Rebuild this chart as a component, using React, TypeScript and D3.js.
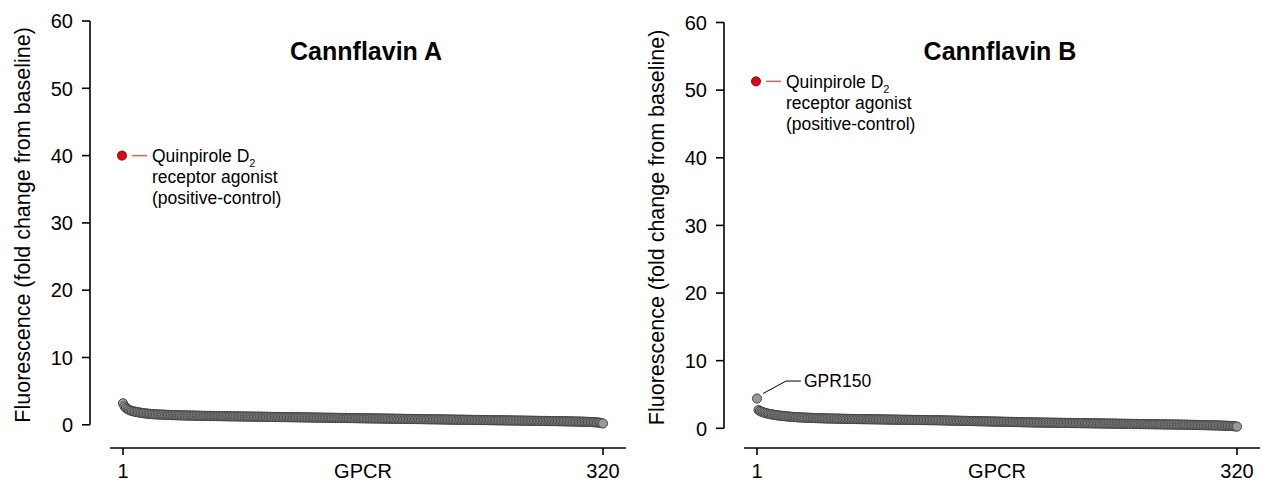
import React from "react";
import * as d3 from "d3";

// fold change per GPCR, sorted high -> low (rank 1..320)
const cannflavinA = [
  3.2, 2.75, 2.5, 2.35, 2.22, 2.12, 2.05, 1.99, 1.94, 1.9, 1.86, 1.82, 1.78, 1.75, 1.72, 1.69, 1.66, 1.64, 1.62, 1.6,
  1.58, 1.56, 1.55, 1.54, 1.53, 1.52, 1.51, 1.5, 1.49, 1.48, 1.47, 1.46, 1.45, 1.45, 1.44, 1.43, 1.42, 1.42, 1.41, 1.4,
  1.4, 1.39, 1.39, 1.38, 1.38, 1.37, 1.37, 1.36, 1.36, 1.35, 1.35, 1.34, 1.34, 1.33, 1.33, 1.32, 1.32, 1.32, 1.31, 1.31,
  1.3, 1.3, 1.3, 1.29, 1.29, 1.29, 1.28, 1.28, 1.28, 1.27, 1.27, 1.27, 1.26, 1.26, 1.26, 1.25, 1.25, 1.25, 1.24, 1.24,
  1.24, 1.23, 1.23, 1.23, 1.22, 1.22, 1.22, 1.21, 1.21, 1.21, 1.2, 1.2, 1.2, 1.19, 1.19, 1.19, 1.18, 1.18, 1.18, 1.17,
  1.17, 1.17, 1.16, 1.16, 1.16, 1.15, 1.15, 1.15, 1.14, 1.14, 1.14, 1.13, 1.13, 1.13, 1.12, 1.12, 1.12, 1.11, 1.11, 1.11,
  1.1, 1.1, 1.1, 1.09, 1.09, 1.09, 1.08, 1.08, 1.08, 1.07, 1.07, 1.07, 1.06, 1.06, 1.06, 1.05, 1.05, 1.05, 1.04, 1.04,
  1.04, 1.03, 1.03, 1.03, 1.02, 1.02, 1.02, 1.01, 1.01, 1.01, 1.0, 1.0, 1.0, 0.99, 0.99, 0.99, 0.98, 0.98, 0.98, 0.97,
  0.97, 0.97, 0.96, 0.96, 0.96, 0.95, 0.95, 0.95, 0.94, 0.94, 0.94, 0.93, 0.93, 0.93, 0.92, 0.92, 0.92, 0.91, 0.91, 0.91,
  0.9, 0.9, 0.9, 0.89, 0.89, 0.89, 0.88, 0.88, 0.88, 0.87, 0.87, 0.87, 0.86, 0.86, 0.86, 0.85, 0.85, 0.85, 0.84, 0.84,
  0.84, 0.83, 0.83, 0.83, 0.82, 0.82, 0.82, 0.81, 0.81, 0.81, 0.8, 0.8, 0.8, 0.79, 0.79, 0.79, 0.78, 0.78, 0.78, 0.77,
  0.77, 0.77, 0.76, 0.76, 0.76, 0.75, 0.75, 0.75, 0.74, 0.74, 0.74, 0.73, 0.73, 0.73, 0.72, 0.72, 0.72, 0.71, 0.71, 0.71,
  0.7, 0.7, 0.7, 0.69, 0.69, 0.69, 0.68, 0.68, 0.68, 0.67, 0.67, 0.67, 0.66, 0.66, 0.66, 0.65, 0.65, 0.65, 0.64, 0.64,
  0.64, 0.63, 0.63, 0.63, 0.62, 0.62, 0.62, 0.61, 0.61, 0.61, 0.6, 0.6, 0.6, 0.59, 0.59, 0.59, 0.58, 0.58, 0.58, 0.57,
  0.57, 0.57, 0.56, 0.56, 0.56, 0.55, 0.55, 0.55, 0.54, 0.54, 0.54, 0.53, 0.53, 0.52, 0.52, 0.51, 0.51, 0.5, 0.5, 0.49,
  0.49, 0.48, 0.48, 0.47, 0.47, 0.46, 0.46, 0.45, 0.44, 0.43, 0.42, 0.41, 0.4, 0.39, 0.37, 0.35, 0.33, 0.3, 0.26, 0.2,
];

const cannflavinB = [
  4.4, 2.7, 2.55, 2.45, 2.38, 2.3, 2.24, 2.18, 2.13, 2.09, 2.05, 2.01, 1.97, 1.94, 1.91, 1.88, 1.85, 1.82, 1.8, 1.78,
  1.76, 1.74, 1.72, 1.7, 1.68, 1.66, 1.65, 1.63, 1.62, 1.61, 1.6, 1.59, 1.58, 1.57, 1.56, 1.55, 1.54, 1.53, 1.52, 1.51,
  1.5, 1.5, 1.49, 1.48, 1.48, 1.47, 1.46, 1.46, 1.45, 1.45, 1.44, 1.44, 1.43, 1.43, 1.42, 1.42, 1.41, 1.41, 1.4, 1.4,
  1.39, 1.39, 1.38, 1.38, 1.38, 1.37, 1.37, 1.36, 1.36, 1.36, 1.35, 1.35, 1.35, 1.34, 1.34, 1.34, 1.33, 1.33, 1.33, 1.32,
  1.32, 1.32, 1.31, 1.31, 1.31, 1.3, 1.3, 1.3, 1.29, 1.29, 1.29, 1.28, 1.28, 1.28, 1.27, 1.27, 1.27, 1.26, 1.26, 1.26,
  1.25, 1.25, 1.25, 1.24, 1.24, 1.24, 1.23, 1.23, 1.23, 1.22, 1.22, 1.22, 1.21, 1.21, 1.21, 1.2, 1.2, 1.2, 1.19, 1.19,
  1.19, 1.18, 1.18, 1.17, 1.17, 1.16, 1.16, 1.15, 1.15, 1.14, 1.14, 1.13, 1.13, 1.12, 1.12, 1.11, 1.11, 1.1, 1.1, 1.09,
  1.09, 1.08, 1.08, 1.07, 1.07, 1.06, 1.06, 1.05, 1.05, 1.04, 1.04, 1.03, 1.03, 1.02, 1.02, 1.01, 1.01, 1.0, 1.0, 0.99,
  0.99, 0.98, 0.98, 0.97, 0.97, 0.96, 0.96, 0.95, 0.95, 0.94, 0.94, 0.93, 0.93, 0.92, 0.92, 0.91, 0.91, 0.9, 0.9, 0.89,
  0.89, 0.88, 0.88, 0.87, 0.87, 0.86, 0.86, 0.86, 0.85, 0.85, 0.85, 0.84, 0.84, 0.84, 0.83, 0.83, 0.83, 0.82, 0.82, 0.82,
  0.81, 0.81, 0.81, 0.8, 0.8, 0.8, 0.79, 0.79, 0.79, 0.78, 0.78, 0.78, 0.77, 0.77, 0.77, 0.76, 0.76, 0.76, 0.75, 0.75,
  0.75, 0.74, 0.74, 0.74, 0.73, 0.73, 0.73, 0.72, 0.72, 0.72, 0.71, 0.71, 0.71, 0.7, 0.7, 0.7, 0.69, 0.69, 0.69, 0.68,
  0.68, 0.68, 0.67, 0.67, 0.67, 0.66, 0.66, 0.66, 0.65, 0.65, 0.65, 0.64, 0.64, 0.64, 0.63, 0.63, 0.63, 0.62, 0.62, 0.62,
  0.61, 0.61, 0.61, 0.6, 0.6, 0.6, 0.59, 0.59, 0.59, 0.58, 0.58, 0.58, 0.57, 0.57, 0.57, 0.56, 0.56, 0.56, 0.55, 0.55,
  0.55, 0.54, 0.54, 0.54, 0.53, 0.53, 0.52, 0.52, 0.51, 0.51, 0.5, 0.5, 0.49, 0.49, 0.48, 0.48, 0.47, 0.47, 0.46, 0.46,
  0.45, 0.45, 0.44, 0.44, 0.43, 0.43, 0.42, 0.42, 0.41, 0.4, 0.39, 0.38, 0.37, 0.36, 0.35, 0.34, 0.33, 0.31, 0.28, 0.25,
];

// quinpirole positive control (rank 1)
const controlValues = [40, 51.3];
const titles = ["Cannflavin A", "Cannflavin B"];
const xTickLabels = [1, 320];
const yDomain = [0, 60];

const FONT = "'Liberation Sans', Arial, Helvetica, sans-serif";

type PanelProps = {
  left: number;
  y0: number;
  y60: number;
  title: string;
  values: number[];
  control: number;
  labelFirst?: string;
};

const Panel = ({ left, y0, y60, title, values, control, labelFirst }: PanelProps) => {
  // left = x of y axis
  const x = d3.scaleLinear().domain([1, 320]).range([left + 33, left + 513]);
  const y = d3.scaleLinear().domain(yDomain).range([y0, y60]);
  const axisY = 448;
  const cx = x(1);
  const cy = y(control);

  return (
    <g fontFamily={FONT}>
      <text x={left - 68} y={(y0 + y60) / 2 + 2} fontSize={21.5} textAnchor="middle"
        transform={`rotate(-90, ${left - 68}, ${(y0 + y60) / 2 + 2})`} dy="0.35em">
        Fluorescence (fold change from baseline)
      </text>

      {/* y axis */}
      <line x1={left} x2={left} y1={y(0)} y2={y(60)} stroke="#000" strokeWidth={1.6} />
      {y.ticks(6).map((t) => (
        <g key={t}>
          <line x1={left - 8} x2={left} y1={y(t)} y2={y(t)} stroke="#000" strokeWidth={1.6} />
          <text x={left - 17} y={y(t)} dy="0.36em" textAnchor="end" fontSize={20}>{t}</text>
        </g>
      ))}

      {/* x axis */}
      <line x1={left + 20} x2={left + 536} y1={axisY} y2={axisY} stroke="#000" strokeWidth={1.6} />
      {xTickLabels.map((t) => (
        <g key={t}>
          <line x1={x(t)} x2={x(t)} y1={axisY} y2={axisY + 7} stroke="#000" strokeWidth={1.6} />
          <text x={x(t)} y={478} textAnchor="middle" fontSize={20}>{t}</text>
        </g>
      ))}
      <text x={(x(1) + x(320)) / 2} y={478} textAnchor="middle" fontSize={20}>GPCR</text>

      <text x={left + 276} y={60} textAnchor="middle" fontSize={25} fontWeight="bold">
        {title}
      </text>

      {/* GPCR points */}
      {values.map((v, i) => (
        <circle key={i} cx={x(i + 1)} cy={y(v)} r={4.6} fill="#999" stroke="#3c3c3c" strokeWidth={0.9} />
      ))}

      {labelFirst && (
        <g>
          <path d={`M${x(1) + 6},${y(values[0]) - 5}L${x(1) + 29},${y(values[0]) - 17.5}H${x(1) + 44}`}
            fill="none" stroke="#000" strokeWidth={1} />
          <text x={x(1) + 47} y={y(values[0]) - 17.5} dy="0.36em" fontSize={17.5}>{labelFirst}</text>
        </g>
      )}

      {/* positive control */}
      <circle cx={cx - 1} cy={cy} r={4.6} fill="#e8000b" stroke="#222" strokeWidth={0.8} />
      <line x1={cx + 9} x2={cx + 24} y1={cy} y2={cy} stroke="#e05a5a" strokeWidth={1.5} />
      <text x={cx + 29} y={cy + 6.5} fontSize={17.5}>
        Quinpirole D<tspan fontSize={11} dy={5}>2</tspan>
      </text>
      <text x={cx + 29} y={cy + 27.5} fontSize={17.5}>receptor agonist</text>
      <text x={cx + 29} y={cy + 48.5} fontSize={17.5}>(positive-control)</text>
    </g>
  );
};

export default function App() {
  return (
    <div style={{ position: "absolute", left: 0, top: 0 }}>
      <svg width={1262} height={482} style={{ display: "block", background: "#fff" }}>
        <Panel left={90} y0={424.8} y60={21} title={titles[0]} values={cannflavinA} control={controlValues[0]} />
        <Panel left={724} y0={428.3} y60={22.5} title={titles[1]} values={cannflavinB} control={controlValues[1]}
          labelFirst="GPR150" />
      </svg>
    </div>
  );
}
